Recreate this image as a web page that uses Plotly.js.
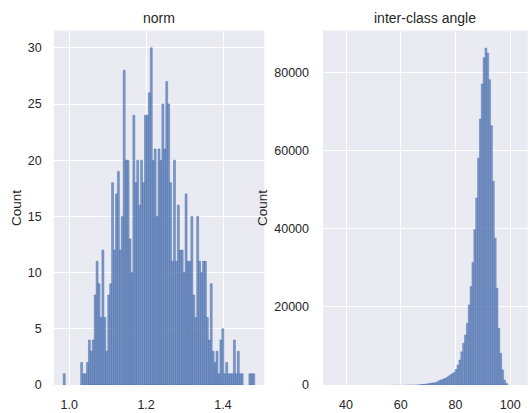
<!DOCTYPE html>
<html><head><meta charset="utf-8">
<script src="https://cdn.plot.ly/plotly-3.0.1.min.js"></script>
<style>html,body{margin:0;padding:0;background:#fff}</style>
</head><body><div id="chart" style="width:531px;height:413px"></div>
<script>
// ---- data ----
const normBinStart = 0.9847;
const normBinEnd = 1.4824;
const normCounts = [
  1, 0, 0, 0, 0, 0, 0, 0, 0, 2, 1, 1, 2, 4, 3, 4,
  8, 11, 9, 6, 12, 6, 3, 8, 9, 18, 12, 17, 19, 12, 15, 28, 20, 20, 13, 10, 24, 18, 20, 16,
  20, 18, 24, 24, 26, 30, 20, 21, 15, 21, 20, 25, 21, 27, 25, 18, 11, 20, 11, 16, 12,
  12, 10, 17, 11, 11, 15, 8, 6, 15, 11, 10, 11, 11, 6, 4, 9, 3, 2, 3,
  1, 4, 5, 1, 2, 1, 1, 1, 4, 1, 3, 1, 1, 0, 0, 0, 1, 1, 1
];
const angleBinStart = 35;
const angleBinEnd = 103;
const angleCounts = [
  0, 0, 1, 0, 0, 0, 1, 0, 0, 1, 0, 1, 1, 0, 2, 1, 2, 2, 3, 3,
  4, 4, 5, 6, 7, 8, 9, 11, 12, 14, 16, 18, 21, 24, 28, 32, 37, 43, 50, 58,
  66, 76, 86, 98, 110, 124, 138, 152, 160,
  170, 250, 350, 430, 500, 550, 600, 800, 1100, 1300, 1450, 1700, 1880, 2300, 2600, 2900, 3200, 4000, 5100, 6400,
  8500, 10700, 12800, 15800, 20500, 25200, 31400, 39800, 47900, 58100, 68100, 77100, 83800, 86300, 85000,
  78200, 66400, 52200, 37600, 24800, 14500, 8100, 3850, 1280, 430, 100,
  30, 10, 4, 1, 1
];
const normTickVals = [1.0, 1.2, 1.4];
const normYTicks = [0, 5, 10, 15, 20, 25, 30];
const angleTickVals = [40, 60, 80, 100];
const angleYTicks = [0, 20000, 40000, 60000, 80000];
const titles = ['norm', 'inter-class angle'];
const yLabel = 'Count';

// ---- build bins ----
function binCenters(start, end, n) {
  const w = (end - start) / n;
  const c = [];
  for (let i = 0; i < n; i++) c.push(start + w * (i + 0.5));
  return {c: c, w: w};
}
const nb = binCenters(normBinStart, normBinEnd, normCounts.length);
const ab = binCenters(angleBinStart, angleBinEnd, angleCounts.length);

const W = 531, H = 413;
const px = v => v / W;
const py = v => 1 - v / H;
const textColor = '#262626';
const fontFam = '"Liberation Sans", Arial, sans-serif';
const fill = 'rgba(76,114,176,0.68)';
const edge = 'rgba(76,114,176,0.85)';

// outlines only on bars tall enough to be visible (sub-pixel bars draw nothing, as in the reference)
const normLineW = normCounts.map(v => v > 0 ? 0.6 : 0);
const angleLineW = angleCounts.map(v => v >= 150 ? 0.5 : 0);

const traces = [
  {type: 'bar', x: nb.c, y: normCounts, width: nb.w, marker: {color: fill, line: {color: edge, width: normLineW}}, xaxis: 'x', yaxis: 'y', hoverinfo: 'x+y'},
  {type: 'bar', x: ab.c, y: angleCounts, width: ab.w, marker: {color: fill, line: {color: edge, width: angleLineW}}, xaxis: 'x2', yaxis: 'y2', hoverinfo: 'x+y'}
];

const axCommon = {
  showgrid: true, gridcolor: '#ffffff', gridwidth: 1, zeroline: false, showline: false,
  ticks: '', tickfont: {family: fontFam, size: 12.5, color: textColor}, fixedrange: true
};

const layout = {
  width: W, height: H,
  margin: {l: 0, r: 0, t: 0, b: 0},
  paper_bgcolor: '#ffffff', plot_bgcolor: '#EAEAF2',
  showlegend: false, bargap: 0,
  font: {family: fontFam, color: textColor},
  xaxis: Object.assign({}, axCommon, {domain: [px(53.7), px(264.3)], range: [0.9598, 1.5073], tickvals: normTickVals, tickformat: '.1f', anchor: 'y', ticklabelstandoff: 10}),
  yaxis: Object.assign({}, axCommon, {domain: [py(385), py(30.5)], range: [0, 31.54], tickvals: normYTicks, anchor: 'x', ticklabelstandoff: 11}),
  xaxis2: Object.assign({}, axCommon, {domain: [px(323), px(527.8)], range: [31.6, 106.4], tickvals: angleTickVals, anchor: 'y2', ticklabelstandoff: 10}),
  yaxis2: Object.assign({}, axCommon, {domain: [py(385), py(30.5)], range: [0, 90787], tickvals: angleYTicks, tickformat: 'd', anchor: 'x2', ticklabelstandoff: 13}),
  annotations: [
    {text: titles[0], x: px((53.7 + 264.3) / 2), y: py(18), xref: 'paper', yref: 'paper', showarrow: false, xanchor: 'center', yanchor: 'middle', font: {size: 14, color: textColor}},
    {text: titles[1], x: px((323 + 527.8) / 2), y: py(18), xref: 'paper', yref: 'paper', showarrow: false, xanchor: 'center', yanchor: 'middle', font: {size: 14, color: textColor}},
    {text: yLabel, x: px(16), y: py(208), xref: 'paper', yref: 'paper', showarrow: false, textangle: -90, xanchor: 'center', yanchor: 'middle', font: {size: 13.5, color: textColor}},
    {text: yLabel, x: px(262), y: py(208), xref: 'paper', yref: 'paper', showarrow: false, textangle: -90, xanchor: 'center', yanchor: 'middle', font: {size: 13.5, color: textColor}}
  ]
};

Plotly.newPlot('chart', traces, layout, {displayModeBar: false, staticPlot: true});
</script>
</body></html>
